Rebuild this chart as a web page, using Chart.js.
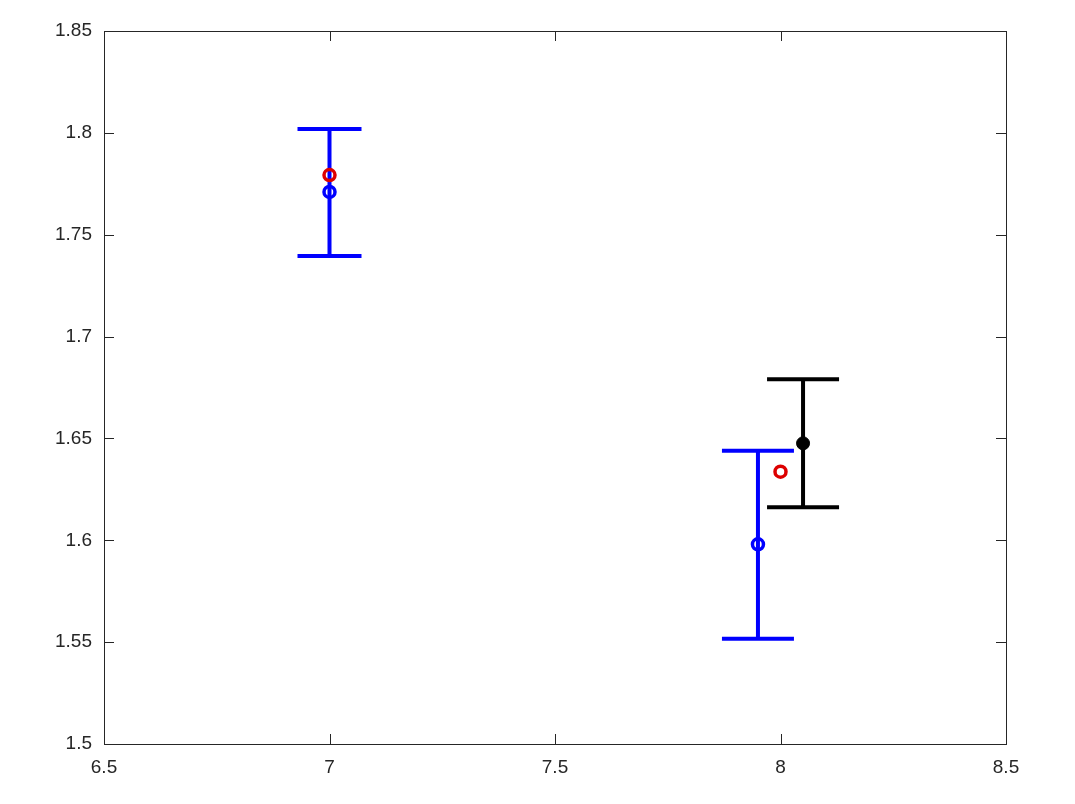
<!DOCTYPE html>
<html>
<head>
<meta charset="utf-8">
<script src="https://cdn.jsdelivr.net/npm/chart.js@4/dist/chart.umd.min.js"></script>
<style>
  html, body { margin: 0; padding: 0; background: #fff; }
  #wrap { width: 1075px; height: 804px; }
</style>
</head>
<body>
<div id="wrap"><canvas id="chart"></canvas></div>
<script>
// Data
const blueX = [7, 7.95];
const blueY = [1.771, 1.598];
const blueLow = [1.7395, 1.5517];
const blueHigh = [1.8019, 1.644];

const redX = [7, 8];
const redY = [1.7793, 1.6337];

const blackX = [8.05];
const blackY = [1.6476];
const blackLow = [1.6162];
const blackHigh = [1.679];

const xTicks = [6.5, 7, 7.5, 8, 8.5];
const yTicks = [1.5, 1.55, 1.6, 1.65, 1.7, 1.75, 1.8, 1.85];

const axisColor = "#262626";

function points(xs, ys, lo, hi) {
    return xs.map((x, i) => ({ x: x, y: ys[i], lo: lo ? lo[i] : null, hi: hi ? hi[i] : null }));
}

// draws error bars from dataset data using the chart scales
const errorBars = {
    id: "errorBars",
    beforeDatasetsDraw(chart) {
        const { ctx, scales } = chart;
        chart.data.datasets.forEach((ds) => {
            if (!ds.errorBar) return;
            ctx.save();
            ctx.strokeStyle = ds.borderColor;
            ctx.lineWidth = ds.errorBar.width;
            ctx.lineCap = "butt";
            ds.data.forEach((p, i) => {
                const px = scales.x.getPixelForValue(p.x);
                const yLo = scales.y.getPixelForValue(p.lo);
                const yHi = scales.y.getPixelForValue(p.hi);
                const cap = ds.errorBar.caps[i];
                ctx.beginPath();
                ctx.moveTo(px, yLo);
                ctx.lineTo(px, yHi);
                ctx.moveTo(px - cap, yLo);
                ctx.lineTo(px + cap, yLo);
                ctx.moveTo(px - cap, yHi);
                ctx.lineTo(px + cap, yHi);
                ctx.stroke();
            });
            ctx.restore();
        });
    }
};

// MATLAB style box with inward ticks on all four sides
const boxAxes = {
    id: "boxAxes",
    afterDraw(chart) {
        const { ctx, chartArea: a, scales } = chart;
        const len = 10;
        ctx.save();
        ctx.strokeStyle = axisColor;
        ctx.lineWidth = 1;
        ctx.beginPath();
        xTicks.forEach((v) => {
            const px = Math.round(scales.x.getPixelForValue(v)) + 0.5;
            ctx.moveTo(px, a.bottom);
            ctx.lineTo(px, a.bottom - len);
            ctx.moveTo(px, a.top);
            ctx.lineTo(px, a.top + len);
        });
        yTicks.forEach((v) => {
            const py = Math.round(scales.y.getPixelForValue(v)) + 0.5;
            ctx.moveTo(a.left, py);
            ctx.lineTo(a.left + len, py);
            ctx.moveTo(a.right, py);
            ctx.lineTo(a.right - len, py);
        });
        ctx.stroke();
        ctx.strokeRect(Math.round(a.left) + 0.5, Math.round(a.top) + 0.5,
            Math.round(a.right - a.left), Math.round(a.bottom - a.top));
        ctx.restore();
    }
};

const ctx = document.getElementById("chart").getContext("2d");

const chart = new Chart(ctx, {
    type: "scatter",
    data: {
        datasets: [
            {
                label: "blue",
                data: points(blueX, blueY, blueLow, blueHigh),
                borderColor: "#0000ff",
                backgroundColor: "rgba(0,0,0,0)",
                pointRadius: 5.5,
                pointBorderWidth: 3.5,
                pointStyle: "circle",
                errorBar: { width: 4, caps: [32, 36] }
            },
            {
                label: "red",
                data: points(redX, redY),
                borderColor: "#dd0000",
                backgroundColor: "rgba(0,0,0,0)",
                pointRadius: 5.5,
                pointBorderWidth: 3.5,
                pointStyle: "circle"
            },
            {
                label: "black",
                data: points(blackX, blackY, blackLow, blackHigh),
                borderColor: "#000000",
                backgroundColor: "#000000",
                pointRadius: 6.5,
                pointBorderWidth: 1,
                pointStyle: "circle",
                errorBar: { width: 4, caps: [36] }
            }
        ]
    },
    options: {
        responsive: true,
        maintainAspectRatio: false,
        animation: false,
        layout: { padding: { top: 31, right: 69, left: 0, bottom: 0 } },
        plugins: {
            legend: { display: false },
            tooltip: { enabled: false }
        },
        scales: {
            x: {
                type: "linear",
                min: 6.5,
                max: 8.5,
                afterFit(scale) { scale.height = 60; },
                afterBuildTicks(scale) { scale.ticks = xTicks.map((v) => ({ value: v })); },
                grid: { display: false, drawTicks: false },
                border: { display: false },
                ticks: {
                    padding: 12,
                    color: axisColor,
                    font: { family: "Liberation Sans, Arial, sans-serif", size: 19 },
                    maxRotation: 0,
                    callback: (v) => String(Number(v.toFixed(2)))
                }
            },
            y: {
                type: "linear",
                min: 1.5,
                max: 1.85,
                afterFit(scale) { scale.width = 104; },
                afterBuildTicks(scale) { scale.ticks = yTicks.map((v) => ({ value: v })); },
                grid: { display: false, drawTicks: false },
                border: { display: false },
                ticks: {
                    padding: 12,
                    color: axisColor,
                    font: { family: "Liberation Sans, Arial, sans-serif", size: 19 },
                    callback: (v) => String(Number(v.toFixed(2)))
                }
            }
        }
    },
    plugins: [errorBars, boxAxes]
});
</script>
</body>
</html>
